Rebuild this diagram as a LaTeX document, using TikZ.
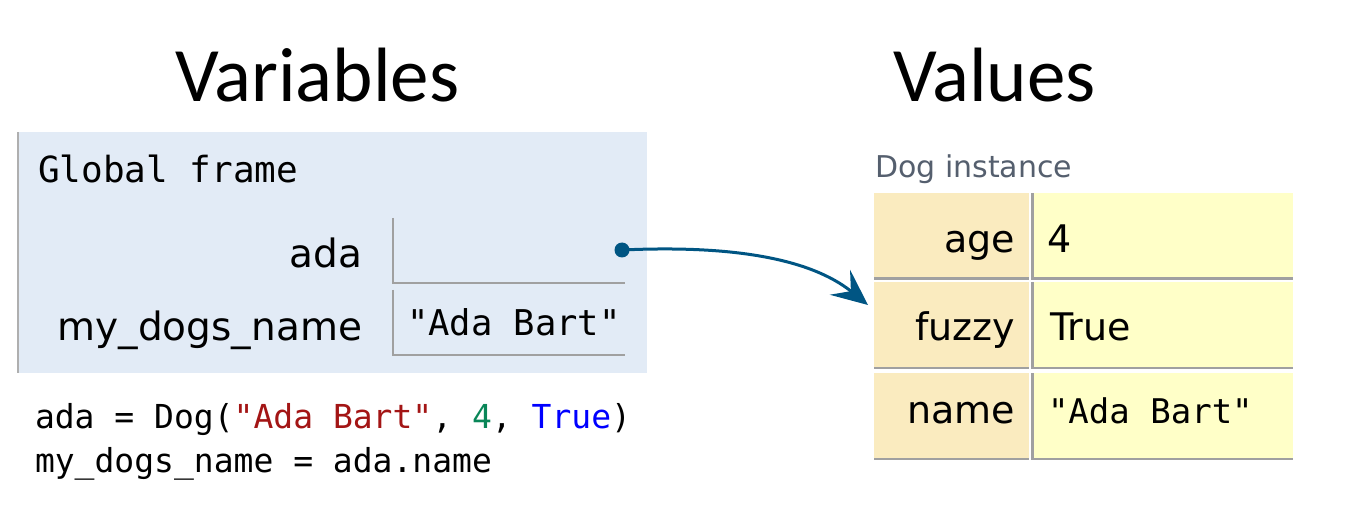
\documentclass[tikz,border=0pt]{standalone}
\usepackage{fontspec}
\setmainfont{DejaVu Sans}
\newfontfamily\titlefont{Carlito}
\newfontfamily\codefont{DejaVu Sans Mono}
\newfontfamily\labelfont{DejaVu Sans}
\usetikzlibrary{arrows.meta}
\definecolor{framebg}{RGB}{226,235,246}
\definecolor{frameedge}{RGB}{175,175,175}
\definecolor{cellline}{RGB}{160,160,160}
\definecolor{keybg}{RGB}{250,235,191}
\definecolor{valbg}{RGB}{255,255,200}
\definecolor{ptr}{RGB}{0,85,131}
\definecolor{strred}{RGB}{163,21,21}
\definecolor{numgreen}{RGB}{9,134,88}
\definecolor{kwblue}{RGB}{0,0,255}
\definecolor{instgray}{RGB}{85,95,110}
\tikzset{
  txt/.style={inner sep=0pt, outer sep=0pt},
  titletext/.style={txt, anchor=base west, font=\titlefont\fontsize{77}{90}\selectfont},
  varname/.style={txt, anchor=base east, font=\labelfont\fontsize{39}{46}\selectfont},
  keyname/.style={txt, anchor=base east, font=\labelfont\fontsize{38}{45}\selectfont},
  valsans/.style={txt, anchor=base west, font=\labelfont\fontsize{38}{45}\selectfont},
  code/.style={txt, anchor=base west, font=\codefont\fontsize{33}{40}\selectfont},
  cellbox/.style={inner sep=0pt, outer sep=0pt, anchor=north west, minimum width=232pt, minimum height=65pt},
  cellborder/.style={draw=cellline, line width=2pt},
  keycell/.style={inner sep=0pt, outer sep=0pt, anchor=north west, fill=keybg, minimum width=155pt, minimum height=87pt},
  valcell/.style={inner sep=0pt, outer sep=0pt, anchor=north west, fill=valbg, minimum width=262pt, minimum height=87pt},
  tableborder/.style={draw=cellline, line width=2.5pt},
  pointer/.style={draw=ptr, line width=3pt, -{Stealth[length=36pt, width=32pt, inset=14pt]}}
}
\begin{document}
\begin{tikzpicture}[x=1pt, y=-1pt]
\useasboundingbox (0,0) rectangle (1361,505);

% titles
\node[titletext] (vartitle) at (175,102) {Variables};
\node[titletext] (valtitle) at (893,102) {Values};

% global frame
\node[inner sep=0pt, outer sep=0pt, anchor=north west, fill=framebg,
      minimum width=630pt, minimum height=241pt] (frame) at (17,132) {};
\draw[draw=frameedge, line width=2pt] ([xshift=1pt]frame.north west) -- ([xshift=1pt]frame.south west);
\node[code, font=\codefont\fontsize{36}{42}\selectfont] (gf) at (38,183) {Global frame};

\node[cellbox] (adacell) at (393,218) {};
\draw[cellborder] (adacell.north west) -- (adacell.south west) -- (adacell.south east);
\node[cellbox] (namecell) at (393,290) {};
\draw[cellborder] (namecell.north west) -- (namecell.south west) -- (namecell.south east);

\node[varname] (adalbl) at (362,268) {ada};
\node[varname] (namelbl) at (362,340) {my\_dogs\_name};
\node[code, font=\codefont\fontsize{35.5}{42}\selectfont] (nameval) at (407,335) {"Ada Bart"};

\node[circle, fill=ptr, minimum size=15pt, inner sep=0pt] (dot) at (622,250) {};

% code
\node[code] (line1) at (35,428) {ada = Dog(\textcolor{strred}{"Ada Bart"}, \textcolor{numgreen}{4}, \textcolor{kwblue}{True})};
\node[code] (line2) at (35,472) {my\_dogs\_name = ada.name};

% Dog instance
\node[txt, anchor=base west, text=instgray, font=\labelfont\fontsize{30}{36}\selectfont] (inst) at (875,178) {Dog instance};

\node[keycell] (k1) at (874,193) {};
\node[valcell] (v1) at (1031,193) {};
\node[keycell] (k2) at (874,282) {};
\node[valcell] (v2) at (1031,282) {};
\node[keycell] (k3) at (874,373) {};
\node[valcell] (v3) at (1031,373) {};

\foreach \k in {k1,k2,k3}{
  \draw[tableborder] ([yshift=1.25pt]\k.south west) -- ([yshift=1.25pt]\k.south east);
}
\foreach \v in {v1,v2,v3}{
  \draw[tableborder] ([xshift=1.25pt]\v.north west) -- ([xshift=1.25pt,yshift=1.25pt]\v.south west) -- ([yshift=1.25pt]\v.south east);
}

\node[keyname] (agek) at (1015,253) {age};
\node[keyname] (fuzzyk) at (1015,340) {fuzzy};
\node[keyname] (namek) at (1015,423) {name};
\node[valsans] (agev) at (1047,253) {4};
\node[valsans] (fuzzyv) at (1050,340) {True};
\node[code, font=\codefont\fontsize{34}{40}\selectfont] (namev) at (1048,423) {"Ada Bart"};

% pointer
\coordinate (tgt) at (868,305);
\draw[pointer] (dot.center) .. controls (730,245) and (810,258) .. (tgt);
\end{tikzpicture}
\end{document}
